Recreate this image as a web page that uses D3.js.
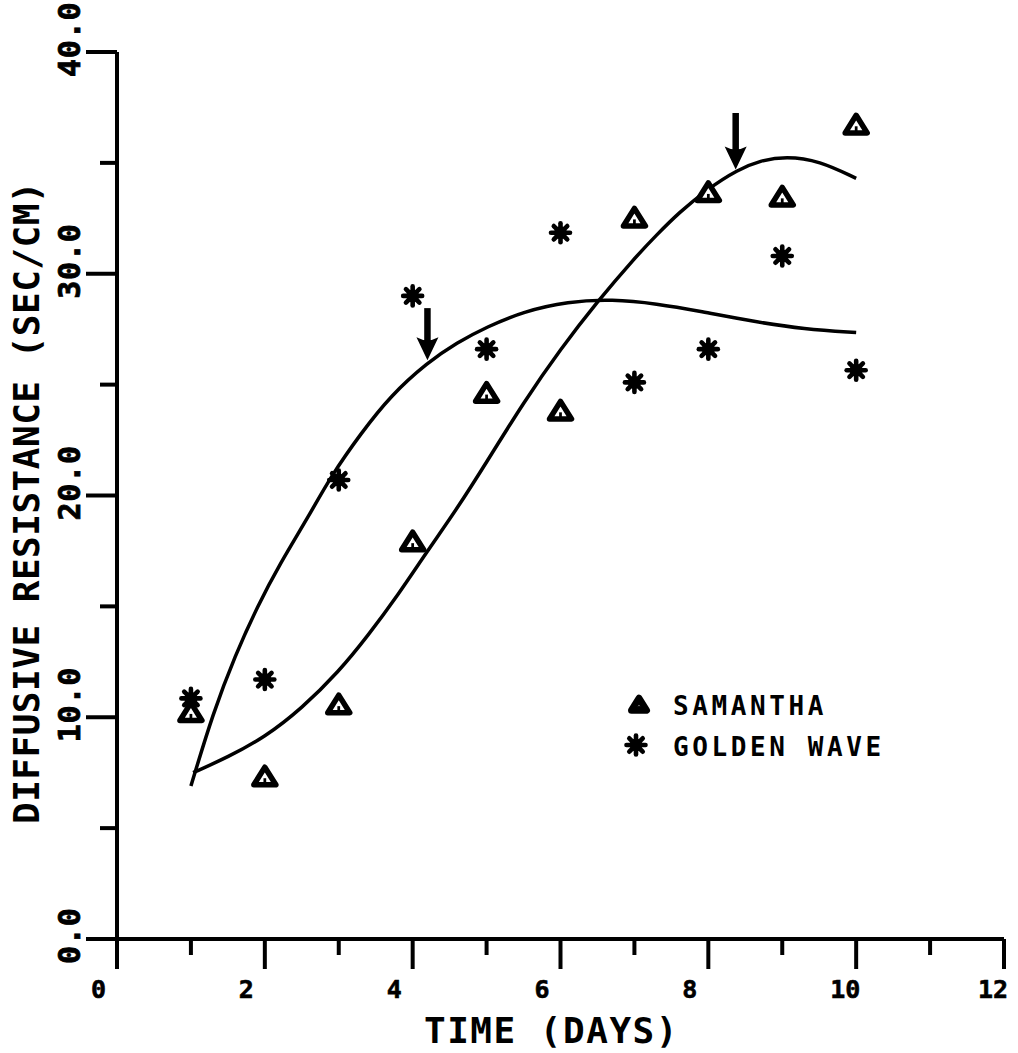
<!DOCTYPE html>
<html>
<head>
<meta charset="utf-8">
<script src="https://cdn.jsdelivr.net/npm/d3@7"></script>
<style>
  body { margin: 0; background: #fff; }
  svg text { font-family: 'DejaVu Sans Mono', monospace; font-weight: bold; fill: #000; }
</style>
</head>
<body>
<div id="vis"></div>
<script>
'use strict'

// measured points
const days = [1, 2, 3, 4, 5, 6, 7, 8, 9, 10]
const samantha = [10.2, 7.3, 10.55, 17.9, 24.6, 23.8, 32.5, 33.65, 33.45, 36.7]
const goldenWave = [10.85, 11.7, 20.7, 29.0, 26.6, 31.85, 25.1, 26.6, 30.8, 25.65]

// fitted curves
const samanthaFitX = [1.03, 1.5, 2.0, 2.5, 3.0, 3.4, 3.8, 4.2, 4.6, 5.0, 5.5, 6.0, 6.5, 7.0, 7.3, 7.6, 8.0, 8.4, 8.7, 9.05, 9.5, 10.0]
const samanthaFitY = [7.5, 8.2, 9.1, 10.4, 12.05, 13.7, 15.5, 17.5, 19.4, 21.5, 24.2, 26.6, 28.75, 30.7, 31.75, 32.75, 33.85, 34.7, 35.1, 35.3, 35.1, 34.3]
const goldenFitX = [1.0, 1.3, 1.6, 1.9, 2.2, 2.6, 2.9, 3.3, 3.7, 4.2, 4.6, 5.0, 5.5, 6.1, 6.7, 7.3, 7.9, 8.6, 9.3, 10.0]
const goldenFitY = [6.9, 10.2, 12.8, 15.0, 16.9, 19.1, 20.9, 22.8, 24.5, 26.0, 26.9, 27.6, 28.3, 28.75, 28.85, 28.65, 28.3, 27.85, 27.5, 27.35]

// arrows: day, top of shaft, tip
const arrowX = [4.2, 8.37]
const arrowFrom = [28.45, 37.25]
const arrowTo = [26.1, 34.7]

const xTicks = [0, 2, 4, 6, 8, 10, 12]
const xMinorTicks = [1, 3, 5, 7, 9, 11]
const yTicks = [0, 10, 20, 30, 40]
const yMinorTicks = [5, 15, 25, 35]

const legendNames = ['SAMANTHA', 'GOLDEN WAVE']

//
// CHART CONFIG
//

const totalWidth = 1018
const totalHeight = 1053
const plotLeft = 117, plotRight = 1004, plotTop = 52, plotBottom = 939

const x = d3.scaleLinear().domain([0, 12]).range([plotLeft, plotRight])
const y = d3.scaleLinear().domain([0, 40]).range([plotBottom, plotTop])

const svg = d3.select('div#vis')
  .append('svg')
    .attr('width', totalWidth)
    .attr('height', totalHeight)

svg.append('rect')
  .attr('width', totalWidth)
  .attr('height', totalHeight)
  .attr('fill', '#fff')

//
// AXES
//

const axes = svg.append('g')
  .attr('stroke', '#000')
  .attr('stroke-width', 4)
  .attr('fill', 'none')

axes.append('path')
  .attr('d', 'M' + plotLeft + ',' + plotTop + 'V' + plotBottom + 'H' + plotRight)

axes.selectAll('line.xmajor')
  .data(xTicks)
  .join('line')
    .classed('xmajor', true)
    .attr('x1', d => x(d)).attr('x2', d => x(d))
    .attr('y1', plotBottom).attr('y2', plotBottom + 30)

axes.selectAll('line.xminor')
  .data(xMinorTicks)
  .join('line')
    .classed('xminor', true)
    .attr('x1', d => x(d)).attr('x2', d => x(d))
    .attr('y1', plotBottom).attr('y2', plotBottom + 16)

axes.selectAll('line.ymajor')
  .data(yTicks)
  .join('line')
    .classed('ymajor', true)
    .attr('y1', d => y(d)).attr('y2', d => y(d))
    .attr('x1', plotLeft).attr('x2', plotLeft - 31)

axes.selectAll('line.yminor')
  .data(yMinorTicks)
  .join('line')
    .classed('yminor', true)
    .attr('y1', d => y(d)).attr('y2', d => y(d))
    .attr('x1', plotLeft).attr('x2', plotLeft - 17)

svg.selectAll('text.xtick')
  .data(xTicks)
  .join('text')
    .classed('xtick', true)
    .attr('x', d => x(d) - 26)
    .attr('y', 998)
    .attr('font-size', 25)
    .attr('stroke', '#000')
    .attr('stroke-width', 0.6)
    .text(d => d)

svg.selectAll('text.ytick')
  .data(yTicks)
  .join('text')
    .classed('ytick', true)
    .attr('transform', d => 'translate(80,' + (y(d) + 25) + ') rotate(-90)')
    .attr('font-size', 30)
    .attr('letter-spacing', 0.8)
    .attr('stroke', '#000')
    .attr('stroke-width', 0.8)
    .text(d => d.toFixed(1))

svg.append('text')
  .attr('x', 424)
  .attr('y', 1043)
  .attr('font-size', 36)
  .attr('letter-spacing', 1.5)
  .text('TIME (DAYS)')

svg.append('text')
  .attr('transform', 'translate(39,824) rotate(-90)')
  .attr('font-size', 36)
  .attr('letter-spacing', 0.5)
  .text('DIFFUSIVE RESISTANCE (SEC/CM)')

//
// CURVES
//

const line = d3.line()
  .x(d => x(d[0]))
  .y(d => y(d[1]))
  .curve(d3.curveBasis)

const curves = [d3.zip(samanthaFitX, samanthaFitY), d3.zip(goldenFitX, goldenFitY)]

svg.selectAll('path.fit')
  .data(curves)
  .join('path')
    .classed('fit', true)
    .attr('d', line)
    .attr('fill', 'none')
    .attr('stroke', '#000')
    .attr('stroke-width', 3.5)

//
// ARROWS
//

const arrows = svg.selectAll('g.arrow')
  .data(d3.range(arrowX.length))
  .join('g')
    .classed('arrow', true)

arrows.append('line')
  .attr('x1', i => x(arrowX[i])).attr('x2', i => x(arrowX[i]))
  .attr('y1', i => y(arrowFrom[i])).attr('y2', i => y(arrowTo[i]) - 15)
  .attr('stroke', '#000')
  .attr('stroke-width', 6.5)

arrows.append('path')
  .attr('d', i => {
    const ax = x(arrowX[i]), ay = y(arrowTo[i])
    return 'M' + ax + ',' + ay + 'L' + (ax - 11) + ',' + (ay - 23) + 'Q' + ax + ',' + (ay - 17) + ' ' + (ax + 11) + ',' + (ay - 23) + 'Z'
  })
  .attr('fill', '#000')

//
// MARKERS
//

function drawTriangle(g, s, sw) {
  g.append('path')
    .attr('d', 'M0,' + (-9 * s) + 'L' + (10 * s) + ',' + (7 * s) + 'L' + (-10 * s) + ',' + (7 * s) + 'Z')
    .attr('fill', '#fff')
    .attr('stroke', '#000')
    .attr('stroke-width', sw)
    .attr('stroke-linejoin', 'round')
  g.append('line')
    .attr('x1', 0).attr('x2', 0)
    .attr('y1', 6 * s).attr('y2', 1 * s)
    .attr('stroke', '#000')
    .attr('stroke-width', 2.5 * s)
}

function drawAsterisk(g, s) {
  const r = 9.5 * s
  const a = r * Math.SQRT1_2
  const segs = [[0, -r, 0, r], [-r, 0, r, 0], [-a, -a, a, a], [-a, a, a, -a]]
  g.selectAll('line')
    .data(segs)
    .join('line')
      .attr('x1', d => d[0]).attr('y1', d => d[1])
      .attr('x2', d => d[2]).attr('y2', d => d[3])
      .attr('stroke', '#000')
      .attr('stroke-width', 4.6 * s)
      .attr('stroke-linecap', 'round')
  g.append('circle')
    .attr('r', 6.5 * s)
    .attr('fill', '#000')
}

svg.selectAll('g.gw')
  .data(d3.zip(days, goldenWave))
  .join('g')
    .classed('gw', true)
    .attr('transform', d => 'translate(' + x(d[0]) + ',' + y(d[1]) + ')')
    .each(function() { drawAsterisk(d3.select(this), 1) })

svg.selectAll('g.sam')
  .data(d3.zip(days, samantha))
  .join('g')
    .classed('sam', true)
    .attr('transform', d => 'translate(' + x(d[0]) + ',' + y(d[1]) + ')')
    .each(function() { drawTriangle(d3.select(this), 1.1, 5.5) })

//
// LEGEND
//

const legend = svg.append('g')

drawTriangle(legend.append('g').attr('transform', 'translate(639,705)'), 0.75, 7)
drawAsterisk(legend.append('g').attr('transform', 'translate(636,745)'), 1)

legend.selectAll('text')
  .data(legendNames)
  .join('text')
    .attr('x', 673)
    .attr('y', (d, i) => 715 + i * 41)
    .attr('font-size', 26)
    .attr('letter-spacing', 3.6)
    .text(d => d)
</script>
</body>
</html>
